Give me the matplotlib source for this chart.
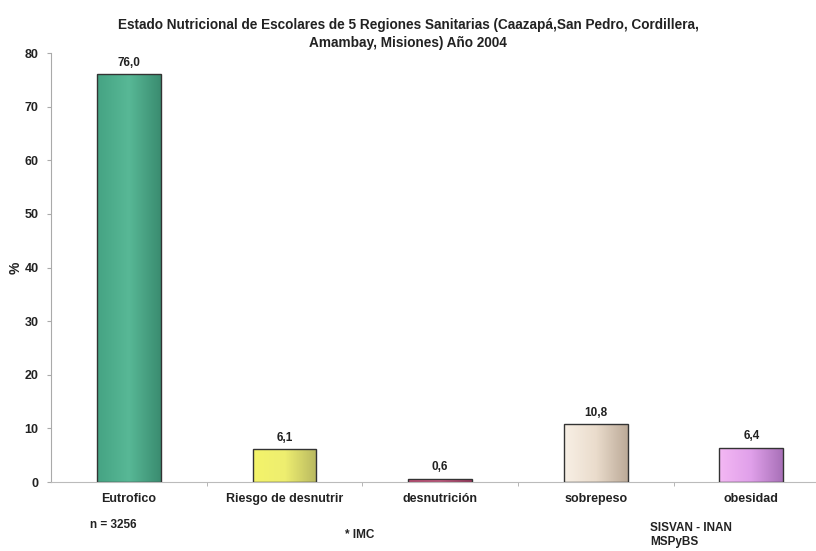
import numpy as np
import matplotlib.pyplot as plt
from matplotlib.colors import LinearSegmentedColormap

plt.rcParams['font.family'] = ['Liberation Sans', 'DejaVu Sans']

categorias = ['Eutrofico', 'Riesgo de desnutrir', 'desnutrición', 'sobrepeso', 'obesidad']
valores = [76.0, 6.1, 0.6, 10.8, 6.4]
etiquetas = ['76,0', '6,1', '0,6', '10,8', '6,4']

# colores del degradado (izquierda, centro, derecha)
degradados = [
    ['#45a383', '#58b896', '#3a8c70'],
    ['#f4f46a', '#eeee70', '#b8b860'],
    ['#c8507a', '#d06088', '#a03860'],
    ['#f8f0e6', '#eadccc', '#bcaa98'],
    ['#f4b8f4', '#e0a0ea', '#a870b8'],
]

fig = plt.figure(figsize=(8.16, 5.51), dpi=100)
ax = fig.add_axes([0.0625, 0.1252, 0.9375, 0.7786])

x = np.arange(len(categorias))
ancho = 0.41
barras = ax.bar(x, valores, width=ancho, color='none', edgecolor='#333333', linewidth=1.0, zorder=3)

grad = np.linspace(0, 1, 256).reshape(1, -1)
for b, cols in zip(barras, degradados):
    cmap = LinearSegmentedColormap.from_list('g', cols)
    x0, y0 = b.get_x(), b.get_y()
    im = ax.imshow(grad, cmap=cmap, aspect='auto', zorder=2,
                   extent=[x0, x0 + b.get_width(), y0, y0 + b.get_height()])
    im.set_clip_path(b)

for xi, v, t in zip(x, valores, etiquetas):
    ax.text(xi, v + 1.0, t, ha='center', va='bottom', fontsize=8.5, fontweight='bold', color='#222222')

ax.set_xlim(-0.5, 4.415)
ax.set_ylim(0, 80)
ax.set_yticks(range(0, 81, 10))
ax.set_xticks(x)
ax.set_xticklabels(categorias, fontsize=9, fontweight='bold', color='#222222')
ax.set_xticks(np.arange(0.5, 4.5, 1), minor=True)
ax.tick_params(axis='x', which='major', length=0, pad=8)
ax.tick_params(axis='x', which='minor', length=3, color='#aaaaaa')
ax.tick_params(axis='y', length=3, color='#aaaaaa', labelsize=9, labelcolor='#222222', pad=6)
for lab in ax.get_yticklabels():
    lab.set_fontweight('bold')

ax.spines['top'].set_visible(False)
ax.spines['right'].set_visible(False)
ax.spines['left'].set_color('#aaaaaa')
ax.spines['bottom'].set_color('#bbbbbb')

ax.set_ylabel('%', fontsize=10, fontweight='bold', color='#222222')
ax.yaxis.set_label_coords(-0.037, 0.5)

fig.text(0.5, 0.968, 'Estado Nutricional de Escolares de 5 Regiones Sanitarias (Caazapá,San Pedro, Cordillera,\nAmambay, Misiones) Año 2004',
         ha='center', va='top', fontsize=9.8, fontweight='bold', color='#222222', linespacing=1.4)

fig.text(90 / 816, 1 - 525 / 551, 'n = 3256', ha='left', va='center', fontsize=8.5, fontweight='bold', color='#222222')
fig.text(345 / 816, 1 - 535 / 551, '* IMC', ha='left', va='center', fontsize=8.5, fontweight='bold', color='#222222')
fig.text(650 / 816, 1 - 535 / 551, 'SISVAN - INAN\nMSPyBS', ha='left', va='center', fontsize=8.5, fontweight='bold', color='#222222', linespacing=1.3)

fig.savefig('out.png', dpi=100)
